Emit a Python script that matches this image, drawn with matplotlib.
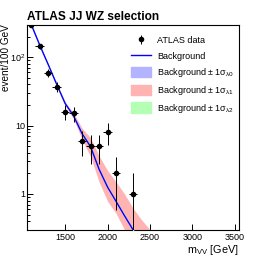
import numpy as np
import matplotlib
matplotlib.use('Agg')
import matplotlib.pyplot as plt
from matplotlib.patches import Patch
from matplotlib.lines import Line2D

plt.rcParams['font.family'] = ['Liberation Sans', 'DejaVu Sans']
plt.rcParams['mathtext.fontset'] = 'custom'
plt.rcParams['mathtext.rm'] = 'Liberation Sans'
plt.rcParams['mathtext.it'] = 'Liberation Sans:italic'
plt.rcParams['mathtext.default'] = 'regular'

# data points (events per 100 GeV bin)
data_x = [1100, 1200, 1300, 1400, 1500, 1600, 1700, 1800, 1900, 2000, 2100, 2300]
data_y = [300, 145, 59, 37, 16, 15, 6, 5, 5, 8, 2, 1]

# background fit and uncertainty bands
bkg_x = [1100, 1200, 1300, 1400, 1500, 1600, 1700, 1800, 1900, 2000, 2100, 2200, 2300, 2400, 2500]
bkg_y = [300, 150, 78, 40, 21, 13.8, 7.6, 4.9, 2.3, 1.26, 0.78, 0.48, 0.30, 0.18, 0.11]
lam1_up = [306, 153, 80, 41.6, 22.3, 15.2, 9.1, 6.6, 3.6, 2.2, 1.5, 1.0, 0.62, 0.42, 0.30]
lam1_lo = [294, 147, 76, 38.4, 19.8, 12.4, 6.2, 3.5, 1.5, 0.78, 0.52, 0.30, 0.18, 0.11, 0.066]
lam0_up = [302, 151, 78.6, 40.4, 21.3, 14.1, 7.8, 5.0, 2.35, 1.29, 0.80, 0.49, 0.31, 0.185, 0.113]
lam0_lo = [298, 149, 77.4, 39.6, 20.7, 13.5, 7.4, 4.8, 2.25, 1.23, 0.76, 0.47, 0.29, 0.175, 0.107]
lam2_up = [303, 152, 79, 40.8, 21.6, 14.4, 8.0, 5.1, 2.4, 1.31, 0.81, 0.50, 0.31, 0.19, 0.115]
lam2_lo = [297, 148, 77, 39.2, 20.4, 13.2, 7.2, 4.7, 2.2, 1.21, 0.75, 0.46, 0.29, 0.175, 0.105]

fig = plt.figure(figsize=(2.66, 2.56), dpi=100)
ax = fig.add_axes([27 / 266, 1 - 229.7 / 256, 212 / 266, 205.2 / 256])

ax.fill_between(bkg_x, lam0_lo, lam0_up, color='#b3b3ff', lw=0, zorder=1)
ax.fill_between(bkg_x, lam1_lo, lam1_up, color='#ffb3b3', lw=0, zorder=2)
ax.fill_between(bkg_x, lam2_lo, lam2_up, color='#b3ffb3', lw=0, zorder=3)
ax.plot(bkg_x, bkg_y, color='#0000ff', lw=1.0, zorder=4)

yerr = np.sqrt(data_y)
ax.errorbar(data_x, data_y, yerr=yerr, xerr=50, fmt='o', color='black',
            ms=3, elinewidth=0.7, capsize=0, zorder=5)

ax.set_yscale('log')
ax.set_xlim(1050, 3550)
ax.set_ylim(0.3, 300)
ax.set_xticks([1500, 2000, 2500, 3000, 3500])
ax.set_yticks([1, 10, 100])
ax.set_yticklabels(['1', '10', '$10^{2}$'])

ax.tick_params(which='major', direction='in', length=4.3, width=0.7, labelsize=6.5)
ax.tick_params(axis='x', which='major', pad=2.5)
ax.tick_params(axis='y', which='major', pad=1.5)
ax.tick_params(which='minor', direction='in', length=2.2, width=0.7)
ax.tick_params(axis='x', which='minor', length=0)
for s in ax.spines.values():
    s.set_linewidth(0.8)

ax.set_ylabel('event/100 GeV', loc='top', fontsize=7.2)
ax.yaxis.set_label_coords(-0.075, 1)
ax.set_xlabel('m$_{VV}$ [GeV]', loc='right', fontsize=7.8, va='baseline')
ax.xaxis.set_label_coords(1, -0.113)

fig.text(27 / 266, 1 - 20 / 256, 'ATLAS JJ WZ selection', fontweight='bold',
         fontsize=8.6, va='baseline')

data_handle = ax.errorbar([np.nan], [np.nan], yerr=[1], fmt='o', color='black',
                          ms=3, elinewidth=0.7, capsize=0)
handles = [data_handle,
           Line2D([], [], color='#0000ff', lw=1.0),
           Patch(color='#b3b3ff'), Patch(color='#ffb3b3'), Patch(color='#b3ffb3')]
labels = ['ATLAS data', 'Background',
          r'Background $\pm$ 1$\sigma_{\lambda0}$',
          r'Background $\pm$ 1$\sigma_{\lambda1}$',
          r'Background $\pm$ 1$\sigma_{\lambda2}$']
ax.legend(handles, labels, loc='upper left', bbox_to_anchor=(131 / 266, 1 - 35 / 256),
          bbox_transform=fig.transFigure, frameon=False, fontsize=6.5,
          borderpad=0, borderaxespad=0, handlelength=2.2, handleheight=1.4,
          labelspacing=0.55, handletextpad=0.66)

fig.savefig('out.png', dpi=100)
